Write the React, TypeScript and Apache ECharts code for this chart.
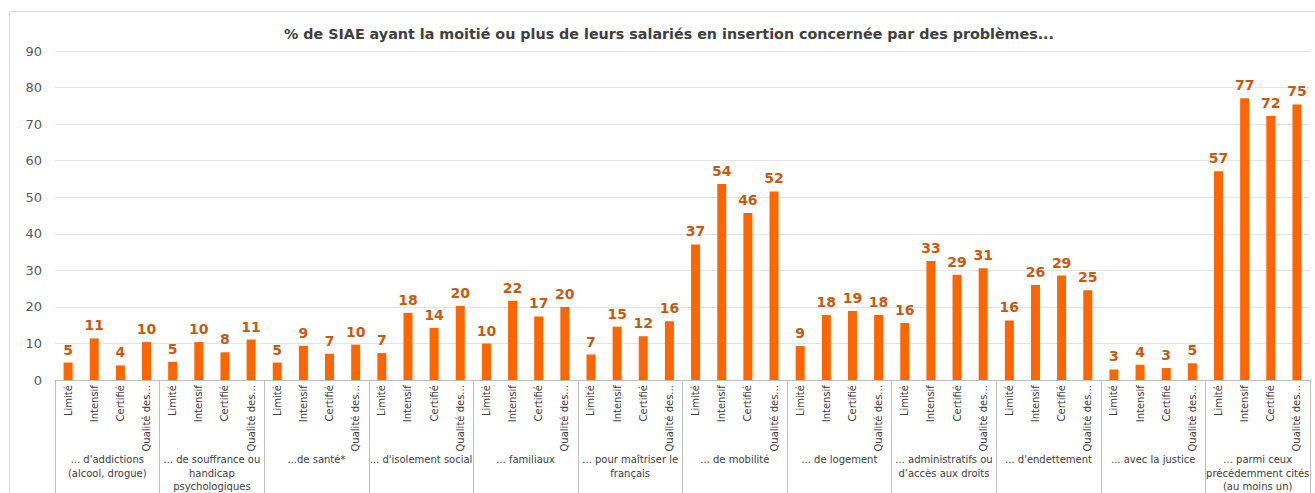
import React, { useEffect, useRef } from "react";
import * as echarts from "echarts";

const titleText =
  "% de SIAE ayant la moitié ou plus de leurs salariés en insertion concernée par des problèmes...";

const groups = [
  "... d'addictions\n(alcool, drogue)",
  "... de souffrance ou\nhandicap\npsychologiques",
  "...de santé*",
  "... d'isolement social",
  "... familiaux",
  "... pour maîtriser le\nfrançais",
  "... de mobilité",
  "... de logement",
  "... administratifs ou\nd’accès aux droits",
  "... d'endettement",
  "... avec la justice",
  "... parmi ceux\nprécédemment cités\n(au moins un)",
];

const subCategories = ["Limité", "Intensif", "Certifié", "Qualité des..."];

const limite = [4.8, 5.0, 4.8, 7.4, 10.0, 7.0, 37.1, 9.3, 15.6, 16.3, 2.9, 57.1];
const intensif = [11.4, 10.4, 9.4, 18.4, 21.7, 14.6, 53.6, 17.8, 32.6, 26.0, 4.2, 77.1];
const certifie = [4.0, 7.6, 7.2, 14.3, 17.4, 12.0, 45.7, 18.9, 28.8, 28.6, 3.3, 72.2];
const qualite = [10.4, 11.1, 9.7, 20.3, 20.0, 16.1, 51.6, 17.8, 30.6, 24.6, 4.6, 75.4];

const yTicks = { min: 0, max: 90, interval: 10 };

export default function App() {
  const ref = useRef<HTMLDivElement>(null);

  useEffect(() => {
    if (!ref.current) return;
    const chart = echarts.init(ref.current, undefined, { renderer: "svg" });

    const cats: string[] = [];
    const values: number[] = [];
    groups.forEach((_, gi) => {
      const seriesVals = [limite[gi], intensif[gi], certifie[gi], qualite[gi]];
      subCategories.forEach((s, si) => {
        cats.push(s);
        values.push(seriesVals[si]);
      });
    });

    const font = "DejaVu Sans";

    chart.setOption({
      animation: false,
      backgroundColor: "#ffffff",
      graphic: [
        {
          type: "rect",
          z: -10,
          shape: { x: 9.5, y: 11.5, width: 1400, height: 600 },
          style: { fill: "none", stroke: "#d9d9d9", lineWidth: 1 },
          silent: true,
        },
        {
          type: "text",
          style: {
            x: 669,
            y: 34,
            text: titleText,
            textAlign: "center",
            textVerticalAlign: "middle",
            fontFamily: font,
            fontWeight: "bold",
            fontSize: 14.3,
            fill: "#404040",
          },
        },
      ],
      grid: { left: 55, right: 5, top: 51, bottom: 112, containLabel: false },
      xAxis: [
        {
          type: "category",
          data: cats,
          position: "bottom",
          axisLine: { show: true, lineStyle: { color: "#bfbfbf", width: 1 } },
          axisTick: { show: false },
          axisLabel: {
            interval: 0,
            rotate: 90,
            margin: 5,
            fontFamily: font,
            fontSize: 10,
            color: "#404040",
          },
        },
        {
          type: "category",
          data: groups,
          position: "bottom",
          axisLine: { show: false },
          axisTick: {
            show: true,
            interval: 0,
            length: 130,
            lineStyle: { color: "#bfbfbf", width: 1 },
          },
          axisLabel: {
            interval: 0,
            margin: 73,
            fontFamily: font,
            fontSize: 10,
            lineHeight: 13.3,
            color: "#404040",
            align: "center",
          },
        },
      ],
      yAxis: {
        type: "value",
        min: yTicks.min,
        max: yTicks.max,
        interval: yTicks.interval,
        axisLine: { show: false },
        axisTick: { show: false },
        splitLine: { lineStyle: { color: "#e4e4e4", width: 1 } },
        axisLabel: {
          margin: 13,
          fontFamily: font,
          fontSize: 13,
          color: "#595959",
        },
      },
      series: [
        {
          type: "bar",
          xAxisIndex: 0,
          data: values,
          barWidth: 9,
          itemStyle: { color: "#ff6600" },
          label: {
            show: true,
            position: "top",
            distance: 6,
            formatter: (p: any) => String(Math.round(p.value)),
            fontFamily: font,
            fontWeight: "bold",
            fontSize: 14,
            color: "#c55a11",
          },
        },
      ],
    });

    return () => chart.dispose();
  }, []);

  return (
    <div
      ref={ref}
      style={{ position: "fixed", left: 0, top: 0, width: 1315, height: 493 }}
    />
  );
}
